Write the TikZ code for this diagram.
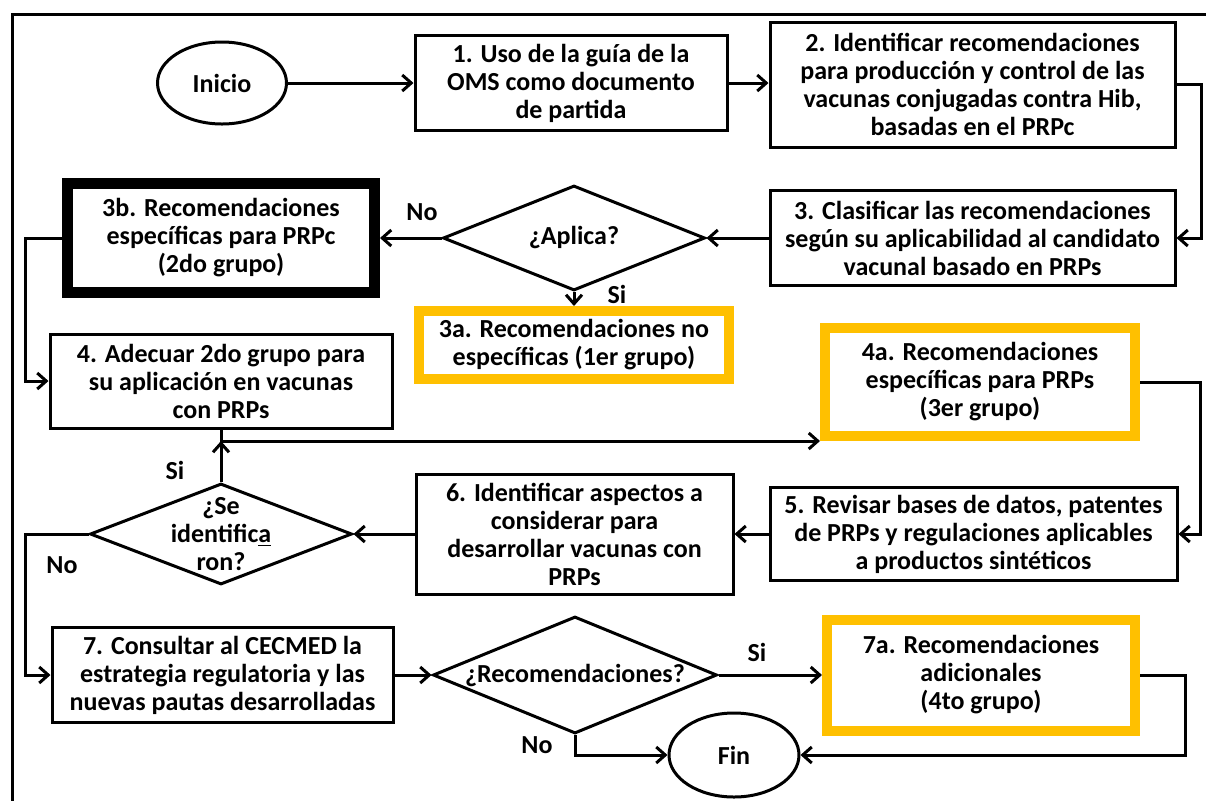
\documentclass[tikz,border=0pt]{standalone}
\usepackage{fontspec}
\setmainfont{Carlito}
\usetikzlibrary{arrows.meta, shapes.geometric}
\definecolor{gold}{HTML}{FFC000}
\tikzset{
  txt/.style={font=\bfseries\fontsize{13}{14}\selectfont, align=center, inner sep=0pt},
  box/.style={txt, draw, line width=1.5pt, fill=white},
  gbox/.style={box, draw=gold, line width=5pt},
  kbox/.style={box, line width=5.5pt},
  decision/.style={draw, diamond, line width=1.5pt, inner sep=0pt},
  term/.style={txt, draw, ellipse, line width=1.5pt},
  flow/.style={line width=1.5pt, -{Straight Barb[length=4.5pt,width=8pt]}}
}

\begin{document}
\begin{tikzpicture}[x=0.5pt, y=-0.5pt]
\useasboundingbox (0,0) rectangle (1206,800);
\draw[line width=1.5pt] (12,810) -- (12,14) -- (1212,14);

\node[term, minimum width=64.5pt, minimum height=41pt] (inicio) at (222,83) {Inicio};
\node[box, minimum width=156pt, minimum height=47.5pt] (b1) at (571,83) {1. Uso de la guía de la\\OMS como documento\\de partida};
\node[box, minimum width=202.5pt, minimum height=62.5pt] (b2) at (972.5,84.5) {2. Identificar recomendaciones\\para producción y control de las\\vacunas conjugadas contra Hib,\\basadas en el PRPc};
\node[box, minimum width=202.5pt, minimum height=47.5pt] (b3) at (972.5,238) {3. Clasificar las recomendaciones\\según su aplicabilidad al candidato\\vacunal basado en PRPs};
\node[decision, minimum width=131pt, minimum height=52.5pt] (aplica) at (574,238) {};
\node[txt] at (aplica) {¿Aplica?};
\node[kbox, minimum width=153.5pt, minimum height=54.5pt] (b3b) at (221,238) {3b. Recomendaciones\\específicas para PRPc\\(2do grupo)};
\node[gbox, minimum width=155pt, minimum height=34pt] (b3a) at (574,345) {3a. Recomendaciones no\\específicas (1er grupo)};
\node[box, minimum width=171pt, minimum height=47pt] (b4) at (221,381) {4. Adecuar 2do grupo para\\su aplicación en vacunas\\con PRPs};
\node[gbox, minimum width=155pt, minimum height=54pt] (b4a) at (980,382) {4a. Recomendaciones\\específicas para PRPs\\(3er grupo)};
\node[box, minimum width=203.5pt, minimum height=46.5pt] (b5) at (973.5,534) {5. Revisar bases de datos, patentes\\de PRPs y regulaciones aplicables\\a productos sintéticos};
\node[box, minimum width=158.5pt, minimum height=60pt] (b6) at (574.5,534) {6. Identificar aspectos a\\considerar para\\desarrollar vacunas con\\PRPs};
\node[decision, minimum width=131pt, minimum height=50.5pt] (ident) at (221,534) {};
\node[txt] at (ident) {¿Se\\identific\underline{a}\\ron?};
\node[box, minimum width=170.5pt, minimum height=47.5pt] (b7) at (222.5,675) {7. Consultar al CECMED la\\estrategia regulatoria y las\\nuevas pautas desarrolladas};
\node[decision, minimum width=142pt, minimum height=58.5pt] (recom) at (575,675) {};
\node[txt] at (recom) {¿Recomendaciones?};
\node[gbox, minimum width=154pt, minimum height=55.5pt] (b7a) at (981,675) {7a. Recomendaciones\\adicionales\\(4to grupo)};
\node[term, minimum width=65pt, minimum height=42pt] (fin) at (734,755) {Fin};

\node[txt] at (422,212) {No};
\node[txt] at (617,294) {Si};
\node[txt] at (175,470) {Si};
\node[txt] at (62,565) {No};
\node[txt] at (757,652) {Si};
\node[txt] at (537,745) {No};

\draw[flow] (inicio) -- (b1);
\draw[flow] (b1.east) -- (b1.east -| b2.west);
\draw[flow] (b2.east) -- ++(25,0) |- (b3.east);
\draw[flow] (b3) -- (aplica);
\draw[flow] (aplica) -- (b3b);
\draw[flow] (aplica) -- (b3a);
\draw[flow] (b3b.west) -- ++(-37,0) |- (b4.west);
\draw[flow] (b4.south) |- (b4a.south west);
\draw[flow] (b4a.east) -- ++(60,0) |- (b5.east);
\draw[flow] (b5) -- (b6);
\draw[flow] (b6) -- (ident);
\draw[flow] (ident.north) -- (ident.north |- b4a.south west);
\draw[flow] (ident.west) -- ++(-63,0) |- (b7.west);
\draw[flow] (b7) -- (recom);
\draw[flow] (recom) -- (b7a);
\draw[flow] (recom.south) |- (fin.west);
\draw[flow] (b7a.east) -- ++(45,0) |- (fin.east);
\end{tikzpicture}
\end{document}
